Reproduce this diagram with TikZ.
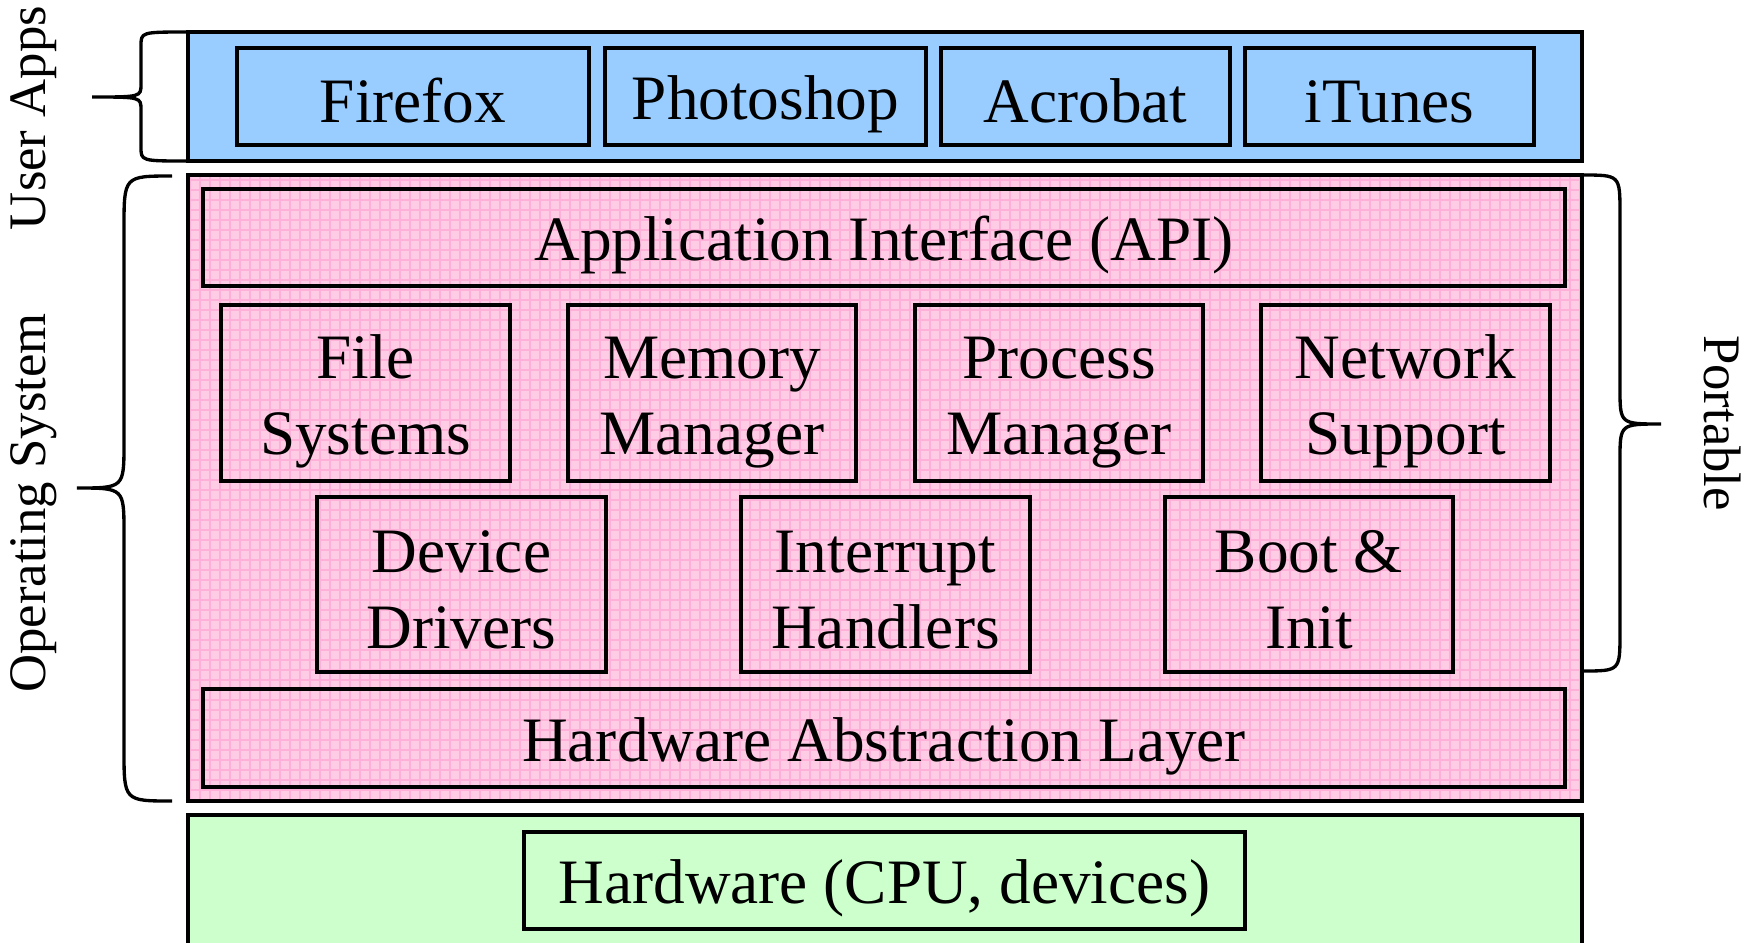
\documentclass[tikz,border=0pt]{standalone}
\usepackage{fontspec}
\setmainfont{Liberation Serif}
\definecolor{appblue}{RGB}{153,204,255}
\definecolor{hwgreen}{RGB}{204,255,204}
\definecolor{ospink}{RGB}{255,204,230}
\definecolor{gridpink}{RGB}{255,176,216}
\newcommand\bxstrut{\rule[-2.2pt]{0pt}{19.2pt}}
\tikzset{
  box/.style={draw=black, line width=1pt, inner sep=0pt, align=center,
    font=\fontsize{18}{21.6}\selectfont},
  layer/.style={draw=black, line width=1pt},
  bracepath/.style={draw=black, line width=0.95pt},
  sidelabel/.style={font=\fontsize{15}{18}\selectfont, inner sep=0pt}
}
\newcommand\pbox[6]{%
  \pgfmathsetmacro\bcx{(#2+#4)/2}%
  \pgfmathsetmacro\bcy{(#3+#5)/2}%
  \pgfmathsetmacro\bw{(#4-#2)*0.1}%
  \pgfmathsetmacro\bh{(#5-#3)*0.1}%
  \node[box, minimum width=\bw mm, minimum height=\bh mm] (#1) at (\bcx,\bcy) {#6};}
\begin{document}
\begin{tikzpicture}[x=0.1mm, y=-0.1mm]
\useasboundingbox (0,0) rectangle (1752,942);
% layers
\fill[appblue] (188,32) rectangle (1582,161);
\draw[layer] (188,32) rectangle (1582,161);
\fill[ospink] (188,175) rectangle (1582,801);
\begin{scope}
  \clip (188,175) rectangle (1582,801);
  \draw[gridpink, line width=0.3pt, step=1mm] (180,170) grid (1590,810);
\end{scope}
\draw[layer] (188,175) rectangle (1582,801);
\fill[hwgreen] (188,815) rectangle (1582,950);
\draw[layer] (188,950) -- (188,815) -- (1582,815) -- (1582,950);
% user apps
\pbox{ff}{237}{48}{589}{145}{\bxstrut Firefox}
\pbox{ps}{605}{48}{926}{145}{\bxstrut Photoshop}
\pbox{ac}{941}{48}{1230}{145}{\bxstrut Acrobat}
\pbox{it}{1245}{48}{1534}{145}{\bxstrut iTunes}
% OS
\pbox{api}{203}{189}{1565}{286}{\bxstrut Application Interface (API)}
\pbox{fs}{221}{305}{510}{481}{\bxstrut File\\\bxstrut Systems}
\pbox{mm}{568}{305}{856}{481}{\bxstrut Memory\\\bxstrut Manager}
\pbox{pm}{915}{305}{1203}{481}{\bxstrut Process\\\bxstrut Manager}
\pbox{ns}{1261}{305}{1550}{481}{\bxstrut Network\\\bxstrut Support}
\pbox{dd}{317}{497}{606}{672}{\bxstrut Device\\\bxstrut Drivers}
\pbox{ih}{741}{497}{1030}{672}{\bxstrut Interrupt\\\bxstrut Handlers}
\pbox{bi}{1165}{497}{1453}{672}{\bxstrut Boot \&\\\bxstrut Init}
\pbox{hal}{203}{689}{1565}{787}{\bxstrut Hardware Abstraction Layer}
% hardware
\pbox{hw}{524}{832}{1245}{929}{\bxstrut Hardware (CPU, devices)}
% braces
\draw[bracepath] (188,32) .. controls (141,32) .. (141,46) -- (141,84)
  .. controls (141,97) .. (92,97) .. controls (141,97) .. (141,110) -- (141,147)
  .. controls (141,161) .. (188,161);
\draw[bracepath] (172,176) .. controls (124,176) .. (124,228) -- (124,443)
  .. controls (124,488) .. (77,488) .. controls (124,488) .. (124,533) -- (124,750)
  .. controls (124,801) .. (172,801);
\draw[bracepath] (1582,175) .. controls (1620,175) .. (1620,213) -- (1620,388)
  .. controls (1620,424) .. (1661,424) .. controls (1620,424) .. (1620,460) -- (1620,633)
  .. controls (1620,671) .. (1582,671);
% labels
\node[sidelabel, rotate=90] (ua) at (34,118) {User Apps};
\node[sidelabel, rotate=90] (os) at (34,503) {Operating System};
\node[sidelabel, rotate=-90] (pt) at (1723,423) {Portable};
\end{tikzpicture}
\end{document}
